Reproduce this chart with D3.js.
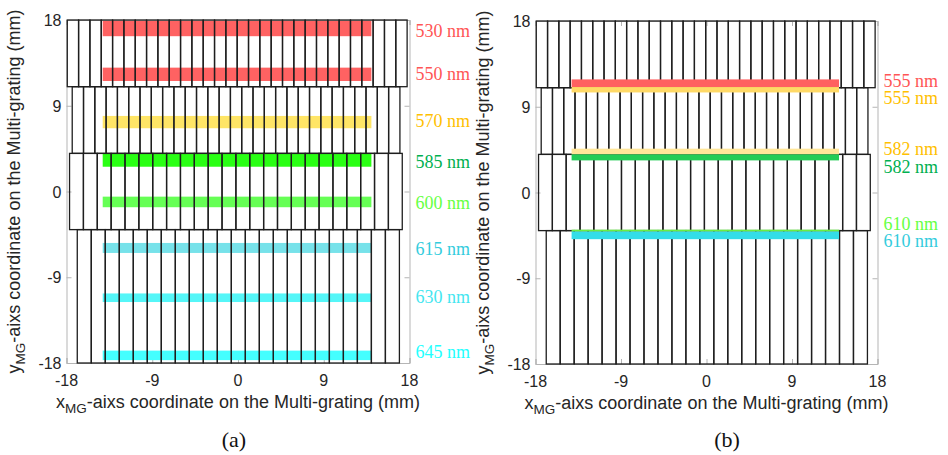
<!DOCTYPE html>
<html>
<head>
<meta charset="utf-8">
<script src="https://cdn.jsdelivr.net/npm/d3@7"></script>
<style>
  body { margin: 0; background: #fff; }
</style>
</head>
<body>
<div id="chart"></div>
<script>
var wt = 948;
var ht = 455;

var ticks = [-18, -9, 0, 9, 18];

// grating rows (mm), same layout in both panels
var rowTop = [18, 11, 4, -4];
var rowBottom = [11, 4, -4, -18];
var rowStart = [-17.92, -17.4, -17.68, -16.87];
var rowPeriod = [1.189, 1.186, 1.455, 1.47];
var rowCount = [30, 29, 24, 23];

// spectral bands, panel (a)
var bandXa = [-14.2, 14.0];
var labelsA = ["530 nm", "550 nm", "570 nm", "585 nm", "600 nm", "615 nm", "630 nm", "645 nm"];
var bandTopA = [17.9, 13.0, 7.93, 3.94, -0.54, -5.4, -10.7, -16.7];
var bandBottomA = [16.3, 11.6, 6.64, 2.6, -1.65, -6.45, -11.6, -17.7];
var labelYA = [16.88, 12.33, 7.43, 3.13, -1.17, -6.03, -11.03, -16.84];
var bandColorA = ["#ff6262", "#ff6262", "#ffe566", "#2aff14", "#66ff55", "#77e2ea", "#55f6f8", "#44ffff"];
var labelColorA = ["#ff5555", "#ff5555", "#ffc000", "#00b050", "#66ff44", "#33ccdd", "#44e6f0", "#22ffff"];

// spectral bands, panel (b)
var bandXb = [-14.2, 13.95];
var labelsB = ["555 nm", "555 nm", "582 nm", "582 nm", "610 nm", "610 nm"];
var bandTopB = [11.87, 11.07, 4.6, 4.0, -3.9, -4.1];
var bandBottomB = [11.07, 10.5, 4.0, 3.37, -4.1, -4.9];
var labelYB = [11.75, 9.9, 4.6, 2.65, -3.3, -5.05];
var bandColorB = ["#ff6060", "#ffd966", "#ffe699", "#22cc55", "#66ee44", "#33dde8"];
var labelColorB = ["#ff5555", "#ffc000", "#ffc000", "#00b050", "#66ff44", "#33ccdd"];

var svg = d3.select("#chart").append("svg")
    .attr("width", wt)
    .attr("height", ht)
    .style("font-family", "'Liberation Sans', Arial, sans-serif");

svg.append("rect")
    .attr("width", wt)
    .attr("height", ht)
    .attr("fill", "#fff");

var drawPanel = function (p) {
    var x = d3.scaleLinear().domain([-18, 18]).range(p.xr);
    var y = d3.scaleLinear().domain([-18, 18]).range(p.yr);
    var g = svg.append("g");

    // axes box + inward ticks
    g.append("g")
        .attr("transform", "translate(0," + p.yr[0] + ")")
        .call(d3.axisBottom(x).tickValues(ticks).tickSize(-5).tickFormat(""));
    g.append("g")
        .attr("transform", "translate(0," + p.yr[1] + ")")
        .call(d3.axisTop(x).tickValues(ticks).tickSize(-5).tickFormat(""));
    g.append("g")
        .attr("transform", "translate(" + p.xr[0] + ",0)")
        .call(d3.axisLeft(y).tickValues(ticks).tickSize(-5).tickFormat(""));
    g.append("g")
        .attr("transform", "translate(" + p.xr[1] + ",0)")
        .call(d3.axisRight(y).tickValues(ticks).tickSize(-5).tickFormat(""));
    g.selectAll(".domain, .tick line").attr("stroke", "#b5b5b5").attr("stroke-width", 1);

    // tick labels
    g.selectAll(".xt").data(ticks).enter().append("text")
        .attr("x", function (d) { return x(d); })
        .attr("y", p.yr[0] + 23)
        .attr("text-anchor", "middle")
        .attr("font-size", 16)
        .attr("fill", "#262626")
        .text(function (d) { return d; });
    g.selectAll(".yt").data(ticks).enter().append("text")
        .attr("x", p.xr[0] - 5)
        .attr("y", function (d) { return y(d) + 6; })
        .attr("text-anchor", "end")
        .attr("font-size", 16)
        .attr("fill", "#262626")
        .text(function (d) { return d; });

    var bands = g.append("g");
    var grat = g.append("g");
    if (p.bandsOnTop) bands.raise();

    // grating cells
    rowTop.forEach(function (t, i) {
        var cells = d3.range(rowCount[i]);
        grat.selectAll(".r" + i).data(cells).enter().append("rect")
            .attr("x", function (k) { return x(rowStart[i] + k * rowPeriod[i]); })
            .attr("width", x(rowPeriod[i]) - x(0))
            .attr("y", y(t))
            .attr("height", y(rowBottom[i]) - y(t))
            .attr("fill", "none")
            .attr("stroke", "#1e1e1e")
            .attr("stroke-width", 1.3);
    });

    bands.selectAll("rect").data(p.labels).enter().append("rect")
        .attr("x", x(p.bandX[0]))
        .attr("width", x(p.bandX[1]) - x(p.bandX[0]))
        .attr("y", function (d, i) { return y(p.top[i]); })
        .attr("height", function (d, i) { return y(p.bottom[i]) - y(p.top[i]); })
        .attr("fill", function (d, i) { return p.bandColor[i]; });

    g.selectAll(".nm").data(p.labels).enter().append("text")
        .attr("x", p.xr[1] + 6)
        .attr("y", function (d, i) { return y(p.labelY[i]) + 6; })
        .attr("font-family", "'Liberation Serif', 'Times New Roman', serif")
        .attr("font-size", 18)
        .attr("fill", function (d, i) { return p.labelColor[i]; })
        .text(function (d) { return d; });

    // axis titles
    var xl = g.append("text")
        .attr("x", (p.xr[0] + p.xr[1]) / 2)
        .attr("y", p.yr[0] + 45)
        .attr("text-anchor", "middle")
        .attr("font-size", 18)
        .attr("fill", "#262626");
    xl.append("tspan").text("x");
    xl.append("tspan").attr("font-size", 13.5).attr("dy", 5).text("MG");
    xl.append("tspan").attr("dy", -5).text("-aixs coordinate on the Multi-grating (mm)");

    var yl = g.append("text")
        .attr("transform", "translate(" + (p.xr[0] - 47) + "," + ((p.yr[0] + p.yr[1]) / 2) + ") rotate(-90)")
        .attr("text-anchor", "middle")
        .attr("font-size", 18)
        .attr("fill", "#262626");
    yl.append("tspan").text("y");
    yl.append("tspan").attr("font-size", 13.5).attr("dy", 5).text("MG");
    yl.append("tspan").attr("dy", -5).text("-aixs coordinate on the Multi-grating (mm)");

    g.append("text")
        .attr("x", p.capX)
        .attr("y", 447)
        .attr("text-anchor", "middle")
        .attr("font-family", "'Liberation Serif', 'Times New Roman', serif")
        .attr("font-size", 22)
        .attr("fill", "#111")
        .text(p.caption);
};

drawPanel({
    xr: [66.5, 409.5], yr: [363, 20],
    bandX: bandXa, labels: labelsA, top: bandTopA, bottom: bandBottomA,
    labelY: labelYA, bandColor: bandColorA, labelColor: labelColorA,
    bandsOnTop: false, caption: "(a)", capX: 234
});

drawPanel({
    xr: [535.5, 877.5], yr: [364, 21],
    bandX: bandXb, labels: labelsB, top: bandTopB, bottom: bandBottomB,
    labelY: labelYB, bandColor: bandColorB, labelColor: labelColorB,
    bandsOnTop: true, caption: "(b)", capX: 727
});
</script>
</body>
</html>
